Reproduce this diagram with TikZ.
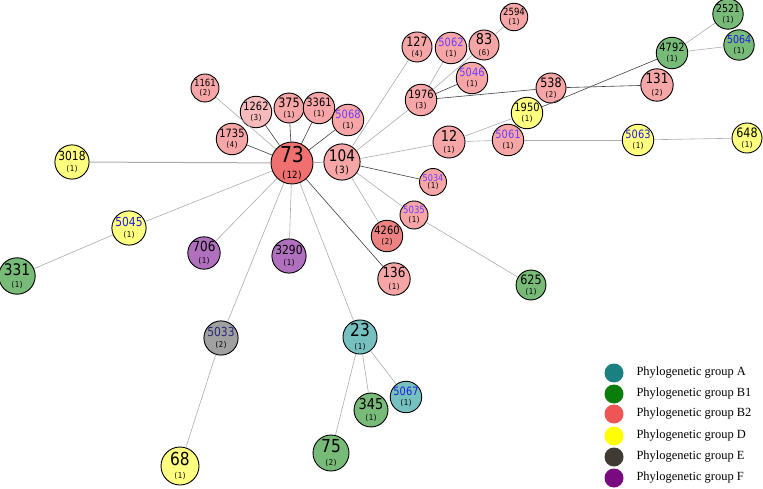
\documentclass[tikz,border=0pt]{standalone}
\usepackage{fontspec}
\setmainfont{Liberation Serif}
\newfontfamily\numf[FakeStretch=0.86]{DejaVu Sans}
\newfontfamily\cntf[FakeStretch=0.9]{DejaVu Sans Mono}
\usetikzlibrary{positioning}
\definecolor{colB2}{RGB}{246,166,166}
\definecolor{colB2d}{RGB}{240,112,112}
\definecolor{colB2m}{RGB}{236,130,130}
\definecolor{colB2l}{RGB}{247,186,186}
\definecolor{colD}{RGB}{255,255,128}
\definecolor{colB1}{RGB}{120,187,120}
\definecolor{colA}{RGB}{118,192,192}
\definecolor{colF}{RGB}{176,112,190}
\definecolor{colE}{RGB}{160,160,160}
\definecolor{legA}{RGB}{26,128,128}
\definecolor{legB1}{RGB}{10,125,10}
\definecolor{legB2}{RGB}{240,85,85}
\definecolor{legD}{RGB}{255,255,0}
\definecolor{legE}{RGB}{64,58,52}
\definecolor{legF}{RGB}{122,10,128}
\definecolor{idv}{RGB}{110,60,255}
\definecolor{idb}{RGB}{30,30,220}
\definecolor{idn}{RGB}{40,40,120}

\begin{document}
\begin{tikzpicture}[x=1bp,y=-1bp]
	\def\stlab#1#2{#1\\[-1.5bp]{\cntf\fontsize{8}{8}\selectfont(#2)}}
	\def\stbig#1#2{#1\\[-2bp]{\cntf\fontsize{10}{10}\selectfont(#2)}}
	\tikzstyle{st} = [circle, draw=black, line width=0.9bp, inner sep=0pt, minimum size=30bp, align=center, font=\numf\fontsize{12}{12}\selectfont]
	\tikzstyle{grpB2} = [st, fill=colB2]
	\tikzstyle{grpD} = [st, fill=colD]
	\tikzstyle{grpB1} = [st, fill=colB1]
	\tikzstyle{grpA} = [st, fill=colA]
	\tikzstyle{grpF} = [st, fill=colF]
	\tikzstyle{grpE} = [st, fill=colE]
	\tikzstyle{edge} = [draw=gray!65, line width=0.6bp]
	\tikzstyle{darkedge} = [draw=gray!50!black, line width=0.6bp]
	\tikzstyle{legdot} = [circle, inner sep=0pt, minimum width=19bp, minimum height=17bp]
	\tikzstyle{legtext} = [anchor=west, font=\fontsize{12.5}{12.5}\selectfont]
	\useasboundingbox (0,0) rectangle (763,489);
	% central clonal complex
	\node (n73)[grpB2, fill=colB2d, minimum size=42bp, font=\numf\fontsize{22}{19}\selectfont] at (292,163) {\stbig{73}{12}};
	\node (n104)[grpB2, minimum size=36bp, font=\numf\fontsize{16}{14}\selectfont] at (342,162) {\stbig{104}{3}};
	\node (n1161)[grpB2, minimum size=28bp, font=\numf\fontsize{10}{10}\selectfont] at (205,88) {\stlab{1161}{2}};
	\node (n1262)[grpB2, fill=colB2l, minimum size=28bp, font=\numf\fontsize{11.5}{11}\selectfont] at (256,112) {\stlab{1262}{3}};
	\node (n375)[grpB2, minimum size=29bp, font=\numf\fontsize{13}{12}\selectfont] at (289,108) {\stlab{375}{1}};
	\node (n3361)[grpB2, minimum size=29bp, font=\numf\fontsize{11.5}{11}\selectfont] at (319,108) {\stlab{3361}{1}};
	\node (n5068)[grpB2, font=\numf\fontsize{11.5}{11}\selectfont] at (348,120) {\stlab{\textcolor{idv}{5068}}{1}};
	\node (n1735)[grpB2, font=\numf\fontsize{11.5}{11}\selectfont] at (232,139) {\stlab{1735}{4}};
	% upper branch
	\node (n127)[grpB2, font=\numf\fontsize{13}{12}\selectfont] at (417,47) {\stlab{127}{4}};
	\node (n5062)[grpB2, font=\numf\fontsize{11.5}{11}\selectfont] at (451,48) {\stlab{\textcolor{idv}{5062}}{1}};
	\node (n83)[grpB2, font=\numf\fontsize{15}{13}\selectfont] at (484,45) {\stlab{83}{6}};
	\node (n2594)[grpB2, minimum size=26bp, font=\numf\fontsize{10}{10}\selectfont] at (514,17) {\stlab{2594}{1}};
	\node (n5046)[grpB2, minimum size=29bp, font=\numf\fontsize{11.5}{11}\selectfont] at (472,78) {\stlab{\textcolor{idv}{5046}}{1}};
	\node (n1976)[grpB2, font=\numf\fontsize{11.5}{11}\selectfont] at (421,100) {\stlab{1976}{3}};
	\node (n538)[grpB2, font=\numf\fontsize{13}{12}\selectfont] at (551,88) {\stlab{538}{2}};
	\node (n131)[grpB2, font=\numf\fontsize{14}{13}\selectfont] at (657,85) {\stlab{131}{2}};
	\node (n4792)[grpB1, minimum size=31bp, font=\numf\fontsize{11.5}{11}\selectfont] at (672,53) {\stlab{4792}{1}};
	\node (n2521)[grpB1, minimum size=28bp, font=\numf\fontsize{11}{11}\selectfont] at (728,14) {\stlab{2521}{1}};
	\node (n5064)[grpB1, minimum size=28bp, font=\numf\fontsize{11}{11}\selectfont] at (739,45) {\stlab{\textcolor{idb}{5064}}{1}};
	% right branch
	\node (n12)[grpB2, minimum size=32bp, font=\numf\fontsize{15}{13}\selectfont] at (449,142) {\stlab{12}{1}};
	\node (n5061)[grpB2, font=\numf\fontsize{11.5}{11}\selectfont] at (508,140) {\stlab{\textcolor{idv}{5061}}{1}};
	\node (n1950)[grpD, minimum size=31bp, font=\numf\fontsize{11.5}{11}\selectfont] at (527,113) {\stlab{1950}{1}};
	\node (n5063)[grpD, font=\numf\fontsize{11.5}{11}\selectfont] at (638,140) {\stlab{\textcolor{idb}{5063}}{1}};
	\node (n648)[grpD, font=\numf\fontsize{13}{12}\selectfont] at (747,138) {\stlab{648}{1}};
	\node (n5034)[grpB2, minimum size=27bp, font=\numf\fontsize{9.5}{9}\selectfont] at (433,182) {\stlab{\textcolor{idv}{5034}}{1}};
	\node (n5035)[grpB2, minimum size=28bp, font=\numf\fontsize{10}{10}\selectfont] at (414,215) {\stlab{\textcolor{idv}{5035}}{1}};
	\node (n4260)[grpB2, fill=colB2m, minimum size=28bp, font=\numf\fontsize{11.5}{11}\selectfont] at (387,236) {\stlab{4260}{2}};
	\node (n136)[grpB2, minimum size=32bp, font=\numf\fontsize{14}{13}\selectfont] at (394,279) {\stlab{136}{1}};
	\node (n625)[grpB1, minimum size=28bp, font=\numf\fontsize{13}{12}\selectfont] at (531,285) {\stlab{625}{1}};
	% left and lower branches
	\node (n3018)[grpD, minimum size=32bp, font=\numf\fontsize{12.5}{12}\selectfont] at (72,162) {\stlab{3018}{1}};
	\node (n5045)[grpD, minimum size=32bp, font=\numf\fontsize{12.5}{12}\selectfont] at (129,228) {\stlab{\textcolor{idb}{5045}}{1}};
	\node (n331)[grpB1, minimum size=34bp, font=\numf\fontsize{16}{14}\selectfont] at (17,276) {\stlab{331}{1}};
	\node (n706)[grpF, minimum size=32bp, font=\numf\fontsize{14}{13}\selectfont] at (204,253) {\stlab{706}{1}};
	\node (n3290)[grpF, minimum size=32bp, font=\numf\fontsize{12.5}{12}\selectfont] at (289,256) {\stlab{3290}{1}};
	\node (n5033)[grpE, minimum size=34bp, font=\numf\fontsize{12.5}{12}\selectfont] at (221,338) {\stlab{\textcolor{idn}{5033}}{2}};
	\node (n68)[grpD, minimum size=38bp, font=\numf\fontsize{18}{15}\selectfont] at (180,466) {\stlab{68}{1}};
	\node (n23)[grpA, minimum size=34bp, font=\numf\fontsize{18}{15}\selectfont] at (360,337) {\stlab{23}{1}};
	\node (n345)[grpB1, minimum size=31bp, font=\numf\fontsize{15}{13}\selectfont] at (371,410) {\stlab{345}{1}};
	\node (n5067)[grpA, minimum size=31bp, font=\numf\fontsize{11.5}{11}\selectfont] at (406,397) {\stlab{\textcolor{idb}{5067}}{1}};
	\node (n75)[grpB1, minimum size=36bp, font=\numf\fontsize{18}{15}\selectfont] at (331,453) {\stlab{75}{2}};
	% links
	\draw[edge] (n73) -- (n1161);
	\draw[darkedge] (n73) -- (n1262);
	\draw[darkedge] (n73) -- (n375);
	\draw[darkedge] (n73) -- (n3361);
	\draw[darkedge] (n73) -- (n5068);
	\draw[darkedge] (n73) -- (n1735);
	\draw[edge, line width=1bp] (n73) -- (n3018);
	\draw[edge] (n73) -- (n5045);
	\draw[edge] (n73) -- (n706);
	\draw[edge] (n73) -- (n3290);
	\draw[edge] (n73) -- (n5033);
	\draw[darkedge] (n73) -- (n136);
	\draw[edge] (n73) -- (n23);
	\draw[edge] (n73) -- (n104);
	\draw[edge] (n104) -- (n127);
	\draw[edge] (n104) -- (n1976);
	\draw[edge] (n104) -- (n12);
	\draw[darkedge] (n104) -- (n5034);
	\draw[edge] (n104) -- (n5035);
	\draw[edge] (n104) -- (n4260);
	\draw[edge] (n1976) -- (n5062);
	\draw[edge] (n1976) -- (n83);
	\draw[darkedge] (n1976) -- (n5046);
	\draw[darkedge] (n1976) -- (n538);
	\draw[edge] (n83) -- (n2594);
	\draw[darkedge] (n538) -- (n131);
	\draw[edge] (n12) -- (n5061);
	\draw[edge] (n12) -- (n1950);
	\draw[darkedge] (n1950) -- (n4792);
	\draw[edge] (n4792) -- (n2521);
	\draw[edge] (n4792) -- (n5064);
	\draw[edge] (n5061) -- (n5063);
	\draw[edge] (n5063) -- (n648);
	\draw[edge] (n5035) -- (n625);
	\draw[edge] (n5045) -- (n331);
	\draw[edge] (n5033) -- (n68);
	\draw[edge] (n23) -- (n345);
	\draw[edge] (n23) -- (n5067);
	\draw[edge] (n23) -- (n75);
	% legend
	\node (legA)[legdot, fill=legA] at (614,373) {};
	\node (legB1)[legdot, fill=legB1] at (614,394) {};
	\node (legB2)[legdot, fill=legB2] at (614,414) {};
	\node (legD)[legdot, fill=legD] at (614,436) {};
	\node (legE)[legdot, fill=legE] at (614,457) {};
	\node (legF)[legdot, fill=legF] at (614,478) {};
	\node (txtA)[legtext] at (633,373) {Phylogenetic group A};
	\node (txtB1)[legtext] at (633,394) {Phylogenetic group B1};
	\node (txtB2)[legtext] at (633,414) {Phylogenetic group B2};
	\node (txtD)[legtext] at (633,436) {Phylogenetic group D};
	\node (txtE)[legtext] at (633,457) {Phylogenetic group E};
	\node (txtF)[legtext] at (633,478) {Phylogenetic group F};
\end{tikzpicture}
\end{document}
